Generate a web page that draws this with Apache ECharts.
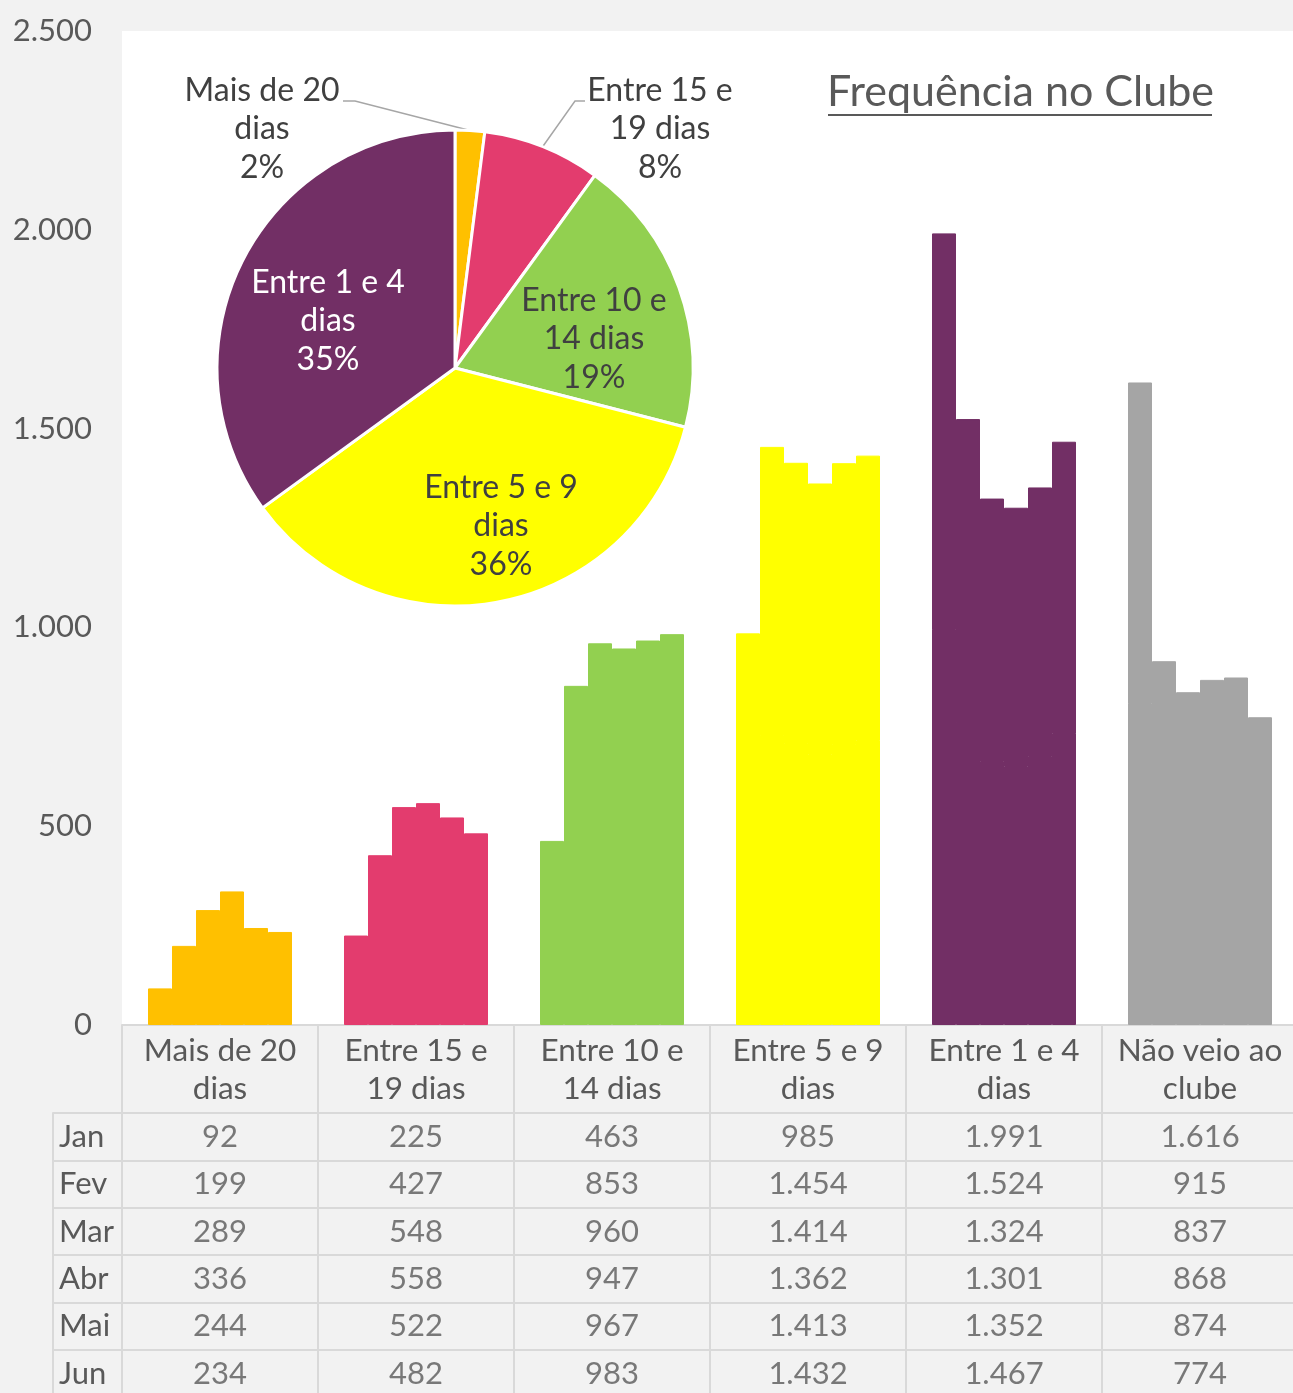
<!DOCTYPE html>
<html><head><meta charset="utf-8">
<script src="https://cdn.jsdelivr.net/npm/echarts@6/dist/echarts.min.js"></script>
<style>html,body{margin:0;padding:0;background:#f2f2f2;} #c{width:1293px;height:1393px;}</style>
</head><body><div id="c"></div>
<script>
const categories = ['Mais de 20\ndias','Entre 15 e\n19 dias','Entre 10 e\n14 dias','Entre 5 e 9\ndias','Entre 1 e 4\ndias','Não veio ao\nclube'];
const months = ['Jan','Fev','Mar','Abr','Mai','Jun'];
const jan = [92,225,463,985,1991,1616];
const fev = [199,427,853,1454,1524,915];
const mar = [289,548,960,1414,1324,837];
const abr = [336,558,947,1362,1301,868];
const mai = [244,522,967,1413,1352,874];
const jun = [234,482,983,1432,1467,774];
const pieNames = categories.slice(0,5);
const piePercent = [2,8,19,36,35];
const colors = ['#FFC000','#E33C6E','#92D050','#FFFF00','#722F65','#A5A5A5'];
const monthData = [jan,fev,mar,abr,mai,jun];

function fmt(v){ return String(v).replace(/\B(?=(\d{3})+(?!\d))/g,'.'); }

const FONT = 'Lato';
const TXT = '#595959';
const LINE = '#D9D9D9';

// pie label placement (label centres), leader elbows
const pieLabelAt = [[262,129],[660,129],[594,339],[501,526],[328,321]];
const pieElbow = {0:[[355,101],[343,101]], 1:[[575,101],[585,101]]};

const tableData = [];
monthData.forEach((arr,i)=>arr.forEach((v,j)=>tableData.push([j,i,v])));

const chart = echarts.init(document.getElementById('c'), null, {renderer:'canvas'});
chart.setOption({
  backgroundColor:'#f2f2f2',
  textStyle:{fontFamily:FONT},
  animation:false,
  title:{text:'Frequência no Clube', left:827, top:71, padding:0, textStyle:{fontFamily:FONT, fontSize:43, fontWeight:'normal', color:TXT}},
  graphic:[{type:'line', shape:{x1:828,y1:115,x2:1212,y2:115}, style:{stroke:TXT, lineWidth:2}}],
  grid:[
    {left:122, top:31, width:1176, height:994, show:true, backgroundColor:'#ffffff', borderWidth:0, outerBoundsMode:'none', containLabel:false},
    {left:122, top:1113, width:1176, height:284.4, show:false, outerBoundsMode:'none', containLabel:false}
  ],
  xAxis:[
    {type:'category', gridIndex:0, data:categories,
     axisLine:{show:true, lineStyle:{color:LINE, width:2}},
     axisTick:{show:true, length:87, interval:0, lineStyle:{color:LINE, width:2}},
     axisLabel:{interval:0, fontSize:31.5, color:TXT, lineHeight:38, margin:7, fontFamily:FONT}},
    {type:'category', gridIndex:1, data:categories, position:'top',
     axisLine:{show:true, lineStyle:{color:LINE, width:2}},
     axisTick:{show:false}, axisLabel:{show:false},
     splitLine:{show:true, interval:0, lineStyle:{color:LINE, width:2}}}
  ],
  yAxis:[
    {type:'value', gridIndex:0, min:0, max:2500, interval:500,
     axisLine:{show:false}, axisTick:{show:false}, splitLine:{show:false},
     axisLabel:{fontSize:31, color:TXT, margin:30, formatter:fmt, fontFamily:FONT}},
    {type:'category', gridIndex:1, data:months, inverse:true,
     axisLine:{show:true, lineStyle:{color:LINE, width:2}},
     axisTick:{show:true, length:69, interval:0, lineStyle:{color:LINE, width:2}},
     splitLine:{show:true, interval:0, lineStyle:{color:LINE, width:2}},
     axisLabel:{fontSize:31, color:TXT, align:'left', margin:63, fontFamily:FONT}},
    {type:'category', gridIndex:1, data:months, inverse:true, position:'left', offset:69,
     axisLine:{show:true, lineStyle:{color:LINE, width:2}},
     axisTick:{show:false}, axisLabel:{show:false}, splitLine:{show:false}}
  ],
  series:[
    ...months.map((m,i)=>({
      type:'bar', name:m, xAxisIndex:0, yAxisIndex:0,
      data:monthData[i].map((v,j)=>({value:v, itemStyle:{color:colors[j], borderColor:colors[j], borderWidth:1}})),
      barGap:'0%', barWidth:24
    })),
    {type:'scatter', xAxisIndex:1, yAxisIndex:1, data:tableData, symbolSize:0,
     label:{show:true, position:'inside', formatter:(p)=>fmt(p.value[2]), fontSize:31, color:TXT, fontFamily:FONT}},
    {type:'pie', center:[455,368], radius:238, startAngle:90, clockwise:true, z:10,
     avoidLabelOverlap:false,
     itemStyle:{borderColor:'#ffffff', borderWidth:3},
     label:{formatter:'{b}\n{d}%', fontSize:32, lineHeight:38.5, fontFamily:FONT, align:'center'},
     labelLine:{lineStyle:{color:'#A6A6A6', width:1.5}},
     labelLayout:function(params){
       const i = params.dataIndex;
       const pos = pieLabelAt[i];
       const out = {x:pos[0], y:pos[1], align:'center', verticalAlign:'middle'};
       if (pieElbow[i] && params.labelLinePoints) {
         out.labelLinePoints = [params.labelLinePoints[0], pieElbow[i][0], pieElbow[i][1]];
       }
       return out;
     },
     data: pieNames.map((n,i)=>({name:n, value:piePercent[i], itemStyle:{color:colors[i]},
       label:{position: i<2 ? 'outside':'inside', color: i===4 ? '#ffffff' : '#404040'},
       labelLine:{show: i<2}}))
    }
  ]
});
</script>
</body></html>
